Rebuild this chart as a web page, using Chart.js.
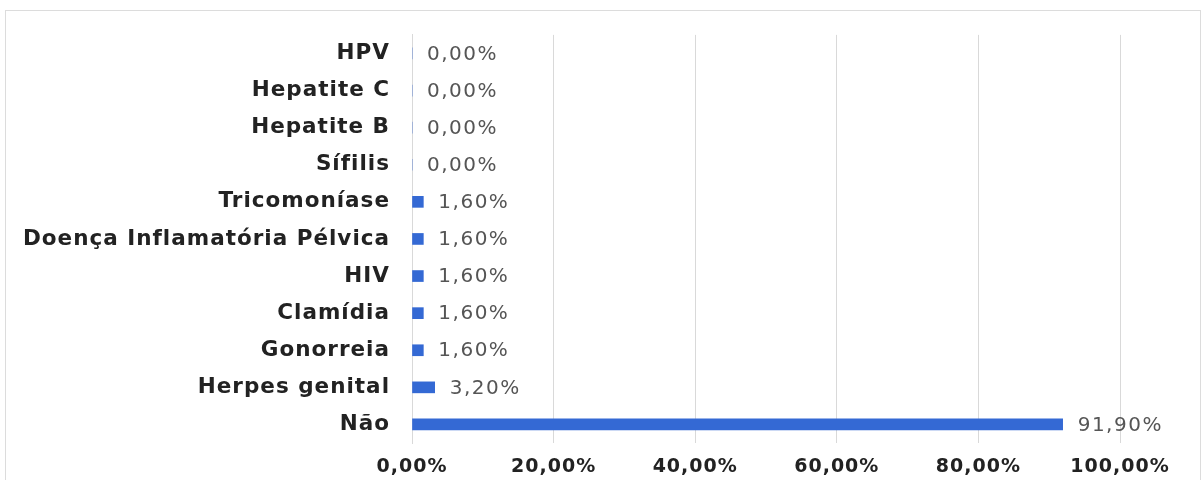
<!DOCTYPE html>
<html>
	<head>
		<meta charset="utf-8"/>
		<title>IST</title>
		<script src="https://cdn.jsdelivr.net/npm/chart.js@4.4.1/dist/chart.umd.min.js"></script>
		<style>
			body { margin: 0; background: #fff; }
			.frame { position: absolute; left: 5px; top: 10px; width: 1194px; height: 480px; border: 1px solid #dcdcdc; }
			#ist_chart { position: absolute; left: 0; top: 0; }
		</style>
	</head>
	<body>
		<div class="frame"></div>
		<canvas id="ist_chart" width="1202" height="480"></canvas>
		<script>
			// categorias de cima para baixo
			const categorias = ['HPV', 'Hepatite C', 'Hepatite B', 'Sífilis', 'Tricomoníase', 'Doença Inflamatória Pélvica', 'HIV', 'Clamídia', 'Gonorreia', 'Herpes genital', 'Não'];
			const percentuais = [0, 0, 0, 0, 1.6, 1.6, 1.6, 1.6, 1.6, 3.2, 91.9];
			const eixoMin = 0;
			const eixoMax = 100;
			const eixoPasso = 20;

			function formatar(v)
			{
				return v.toFixed(2).replace('.', ',') + '%';
			}

			// texto um pouco mais espaçado, como no original
			const espacamento =
			{
				id: 'espacamento',
				beforeUpdate(chart) { chart.ctx.letterSpacing = '1px'; },
				beforeDraw(chart) { chart.ctx.letterSpacing = '1px'; }
			};

			// rótulos de valor ao lado das barras
			const rotulos =
			{
				id: 'rotulos',
				afterDatasetsDraw(chart)
				{
					const ctx = chart.ctx;
					const meta = chart.getDatasetMeta(0);
					ctx.save();
					ctx.letterSpacing = '1.5px';
					ctx.font = '20px "DejaVu Sans"';
					ctx.fillStyle = '#555';
					ctx.textAlign = 'left';
					ctx.textBaseline = 'middle';
					meta.data.forEach((bar, i) =>
					{
						ctx.fillText(formatar(percentuais[i]), bar.x + 15, bar.y + 1);
					});
					ctx.restore();
				}
			};

			const ctx = document.getElementById('ist_chart').getContext('2d');
			new Chart(ctx,
			{
				type: 'bar',
				data:
				{
					labels: categorias,
					datasets:
					[
						{
							data: percentuais,
							backgroundColor: '#3469d4',
							barThickness: 11
						}
					]
				},
				options:
				{
					indexAxis: 'y',
					responsive: false,
					animation: false,
					layout: { padding: { top: 33, right: 82, bottom: 0, left: 0 } },
					plugins: { legend: { display: false }, tooltip: { enabled: false } },
					scales:
					{
						x:
						{
							min: eixoMin,
							max: eixoMax,
							grid: { color: '#d9d9d9', drawTicks: false },
							border: { display: false },
							ticks:
							{
								stepSize: eixoPasso,
								padding: 13,
								color: '#222',
								font: { family: 'DejaVu Sans', size: 19, weight: 'bold' },
								callback: v => formatar(v)
							},
							afterFit: s => { s.height = 37; }
						},
						y:
						{
							grid: { display: false, drawTicks: false },
							border: { display: true, color: '#d9d9d9' },
							ticks:
							{
								padding: 22,
								color: '#222',
								font: { family: 'DejaVu Sans', size: 21.5, weight: 'bold' }
							},
							afterFit: s => { s.width = 412; }
						}
					}
				},
				plugins: [espacamento, rotulos]
			});
		</script>
	</body>
</html>
